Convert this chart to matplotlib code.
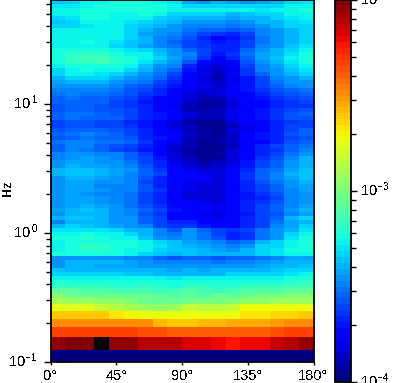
import numpy as np
import matplotlib
matplotlib.use("Agg")
import matplotlib.pyplot as plt
from matplotlib.colors import LogNorm
from matplotlib.ticker import NullFormatter
from matplotlib.transforms import ScaledTranslation

plt.rcParams['font.family'] = ['Liberation Sans', 'DejaVu Sans']
plt.rcParams['mathtext.default'] = 'regular'
plt.rcParams['text.antialiased'] = False

angle_edges = np.arange(0, 190, 10)
x_ticks = [0, 45, 90, 135, 180]
x_labels = ['0°', '45°', '90°', '135°', '180°']
y_ticks = [0.1, 1, 10]
y_labels = ['$10^{-1}$', '$10^{\\,0}$', '$10^{\\,1}$']
cbar_ticks = [1e-4, 1e-3, 1e-2]
cbar_labels = ['$10^{-4}$', '$10^{-3}$', '$10^{-2}$']
y_label = 'Hz'

low_freq_edges = [0.1, .124, .156, .187, .215, .2485, .2816, .3135, .3447, .3767,
                  .402, .432, .464, .499, .535, .575, .618, .663]
high_freq_edges = np.geomspace(0.663, 64, 65)[1:]

# colour-scale position (percent of the two-decade range), top row first
level_pct = [
 [32,34,36,37,38,38,38,37,35,29,28,30,29,28,29,31,33,35],
 [35,35,37,38,38,38,38,38,36,34,33,34,33,33,33,34,36,37],
 [37,37,39,39,38,38,39,38,37,37,36,37,36,36,35,36,37,38],
 [36,36,39,39,37,37,38,36,34,33,33,34,31,32,33,34,36,37],
 [34,35,38,38,37,36,36,34,32,30,30,31,29,30,31,33,35,36],
 [32,34,36,36,36,35,34,32,30,28,28,28,26,27,30,31,34,35],
 [33,34,35,36,36,34,32,30,28,26,26,26,24,25,28,30,33,34],
 [36,36,36,37,36,33,30,28,27,24,23,22,21,22,26,28,31,33],
 [37,37,37,37,36,33,29,27,25,22,20,18,17,19,25,27,30,33],
 [36,36,37,37,36,34,31,26,24,21,17,13,15,18,24,27,30,33],
 [37,37,38,37,35,32,30,25,23,20,18,15,16,19,24,27,31,34],
 [36,36,36,36,33,32,29,26,24,19,18,16,16,20,26,28,32,35],
 [38,39,39,38,37,35,33,30,27,23,19,16,17,22,27,30,34,37],
 [39,41,42,41,38,37,36,32,28,25,19,15,18,24,29,31,35,38],
 [39,42,43,43,40,38,37,33,29,24,18,13,16,22,29,32,36,39],
 [39,41,42,43,40,38,35,31,27,21,13,10,14,21,28,30,35,39],
 [37,39,39,39,38,36,32,28,25,17,10, 8,11,20,26,29,34,37],
 [34,37,38,37,36,33,30,26,23,15, 9, 7,10,18,25,27,32,35],
 [33,36,36,35,34,31,28,24,20,14,10, 6,11,18,23,27,30,33],
 [31,34,33,33,31,28,26,22,18,13, 9, 6,10,15,20,25,28,30],
 [29,31,30,30,28,26,24,20,16,12, 9, 7,10,15,20,24,27,28],
 [27,28,28,28,26,23,21,18,15,11,10, 7,11,15,19,23,25,27],
 [25,26,26,26,24,21,19,16,14,10, 8, 8,12,15,18,21,23,24],
 [24,25,24,24,23,21,18,16,13, 9, 7, 8,12,14,16,19,21,22],
 [23,24,23,22,21,19,17,14,12, 8, 6, 6,10,13,15,18,20,21],
 [22,23,23,22,20,18,15,13,11, 7, 4, 4, 8,12,14,16,18,19],
 [21,23,22,21,20,18,16,13,10, 6, 3, 4, 8,11,13,16,18,18],
 [21,22,22,21,21,19,17,14,11, 6, 5, 6,10,12,15,18,20,21],
 [23,24,24,23,21,20,17,15,12, 8, 6, 6,10,13,15,18,21,22],
 [22,24,23,23,22,20,17,15,12, 7, 5, 5,10,12,15,18,21,21],
 [20,21,21,20,19,17,15,11, 8, 4, 3, 3, 8,11,13,16,18,19],
 [20,21,21,20,19,18,15,12, 9, 5, 3, 2, 6,10,13,16,19,20],
 [21,23,23,22,21,19,16,13,10, 6, 4, 3, 8,10,14,16,20,22],
 [22,24,25,24,23,20,17,14,11, 7, 4, 3, 7,11,15,17,21,23],
 [21,23,24,23,22,21,17,15,11, 6, 4, 4, 7,11,15,16,19,21],
 [24,26,25,24,24,22,18,14,10, 6, 3, 4, 7,12,14,17,21,23],
 [23,25,25,23,21,20,16,13, 8, 5, 3, 3, 6,12,16,19,22,24],
 [23,25,24,22,20,18,15,12, 7, 4, 2, 3, 8,12,16,18,22,25],
 [25,27,28,26,25,22,18,14, 8, 4, 2, 4, 9,13,17,20,24,28],
 [26,28,29,27,26,23,19,15, 8, 5, 2, 3, 8,14,18,21,26,30],
 [27,29,29,28,27,24,20,16,10, 7, 4, 5, 9,15,20,22,27,30],
 [28,30,29,29,28,25,21,16,12, 8, 6, 7,10,15,20,23,27,30],
 [31,32,32,31,29,27,23,18,14,10, 9, 8,12,17,22,24,29,32],
 [31,32,32,31,29,26,23,19,14,11,10, 9,13,18,22,25,30,32],
 [27,30,31,29,28,25,21,17,14,11,11, 8,13,18,22,25,29,32],
 [27,29,29,28,27,25,20,16,13,10,10, 9,13,17,21,24,28,30],
 [27,29,29,26,26,25,21,17,13,10, 9, 8,11,16,20,23,27,29],
 [27,29,29,28,26,25,21,18,13,10, 9, 8,11,16,19,22,26,29],
 [27,29,28,25,25,24,20,17,11, 9, 8, 8,12,15,18,21,25,28],
 [27,29,29,27,25,24,19,16,12, 8, 8, 8,13,15,17,20,25,28],
 [28,29,29,27,26,24,20,16,12,11,10, 9,13,16,18,21,25,28],
 [28,29,31,29,27,24,21,18,14,13,11,10,14,17,20,22,26,29],
 [29,31,32,31,28,26,22,19,15,13,12,10,14,17,20,23,27,30],
 [28,30,31,30,27,26,21,18,13,11,10, 9,12,15,19,21,26,29],
 [30,32,32,31,28,27,23,19,14,14,11,10,13,16,19,23,30,33],
 [26,31,31,30,28,27,23,20,16,16,12,11,14,17,20,24,29,31],
 [31,33,32,31,29,28,25,20,18,18,15,13,14,17,20,25,29,33],
 [35,35,35,35,34,31,30,25,21,27,23,19,18,19,24,28,31,35],
 [36,37,39,37,36,33,31,26,24,28,24,20,17,18,24,28,33,37],
 [38,39,40,39,37,36,32,27,25,28,24,21,16,18,24,28,35,38],
 [36,38,39,39,38,38,37,34,32,29,27,26,22,24,31,33,37,39],
 [36,39,41,41,39,38,36,35,32,31,29,27,26,27,33,34,37,39],
 [37,39,40,40,39,37,36,34,32,32,30,29,27,30,33,35,38,39],
 [38,38,38,38,38,36,33,32,31,32,31,31,30,31,33,35,37,37],
 [27,28,28,27,27,26,25,22,21,23,22,21,22,22,24,26,29,29],
 [27,30,30,30,30,29,27,26,25,26,25,24,25,26,27,29,31,31],
 [28,30,30,29,29,29,28,28,27,28,27,27,28,28,29,30,31,32],
 [32,30,31,30,30,31,31,31,29,30,29,30,30,31,31,32,33,33],
 [33,33,33,33,33,32,32,31,30,30,31,31,33,33,33,33,35,36],
 [36,37,37,37,37,37,37,36,35,36,36,37,37,36,36,37,38,38],
 [40,39,39,38,38,38,38,38,38,39,38,38,38,38,38,39,40,41],
 [42,41,41,41,40,40,41,40,39,41,41,40,40,41,41,42,43,43],
 [46,46,44,44,43,43,43,42,43,44,43,42,43,44,44,45,46,46],
 [51,48,48,48,47,47,47,46,45,46,45,47,46,48,49,49,50,50],
 [55,54,54,52,52,50,48,48,48,49,49,49,50,52,53,54,54,54],
 [62,62,61,59,57,56,54,53,54,58,57,57,58,63,63,63,63,63],
 [69,69,69,69,67,65,64,64,63,64,64,64,64,66,66,68,68,69],
 [76,76,76,76,76,75,75,71,69,69,71,71,72,72,72,74,75,76],
 [84,84,84,84,84,84,82,82,81,80,80,80,80,80,81,82,83,84],
 [97,99,99,130,98,98,95,95,94,92,92,90,88,90,90,93,95,97],
 [ 1, 1, 1, 1, 1, 1, 1, 1, 1, 1, 1, 1, 1, 1, 1, 1, 1, 1],
]

W, H = 418, 383
freq_edges = np.concatenate([low_freq_edges, high_freq_edges])
values = 10.0 ** (-4 + np.array(level_pct[::-1], dtype=float) / 50)

cmap = plt.get_cmap('jet', 64).copy()
cmap.set_over('black')
norm = LogNorm(vmin=1e-4, vmax=1e-2)

fig = plt.figure(figsize=(W / 100, H / 100), dpi=100)
ax = fig.add_axes([50.5 / W, (H - 362) / H, 263 / W, 362 / H])
mesh = ax.pcolormesh(angle_edges, freq_edges, values, cmap=cmap, norm=norm,
                     shading='flat', antialiased=False, linewidth=0)
ax.set_yscale('log')
ax.set_xlim(0, 180)
ax.set_ylim(0.1, 64)
ax.set_xticks(x_ticks, x_labels, fontsize=10.5)
ax.set_yticks(y_ticks, y_labels, fontsize=10.5)
ax.yaxis.set_minor_formatter(NullFormatter())
ax.tick_params(axis='x', which='major', length=2.5, width=1, pad=2.5)
ax.tick_params(axis='y', which='major', length=5, width=1, pad=4)
ax.tick_params(axis='y', which='minor', length=3.6, width=1)
ax.set_ylabel(y_label, fontsize=9, fontweight='bold')
ax.yaxis.set_label_coords(-0.14, 0.48)
for s in ax.spines.values():
    s.set_linewidth(1.3)

cax = fig.add_axes([335 / W, (H - 382) / H, 16 / W, 382 / H])
cb = fig.colorbar(mesh, cax=cax, extend='neither')
cb.set_ticks(cbar_ticks, labels=cbar_labels)
cb.ax.yaxis.set_minor_formatter(NullFormatter())
cb.ax.tick_params(which='major', length=4.6, width=1, labelsize=10.5, pad=2)
cb.ax.tick_params(which='minor', length=3.6, width=1)
cb.outline.set_linewidth(1.3)

# centre the exponent labels on their digits rather than on digits plus superscript
shift = ScaledTranslation(0, 2.5 / 72 * 0.72 * 100 / 100, fig.dpi_scale_trans)
for lab in list(ax.get_yticklabels()) + list(cb.ax.get_yticklabels()):
    lab.set_transform(lab.get_transform() + shift)

fig.savefig('out.png', dpi=100)
